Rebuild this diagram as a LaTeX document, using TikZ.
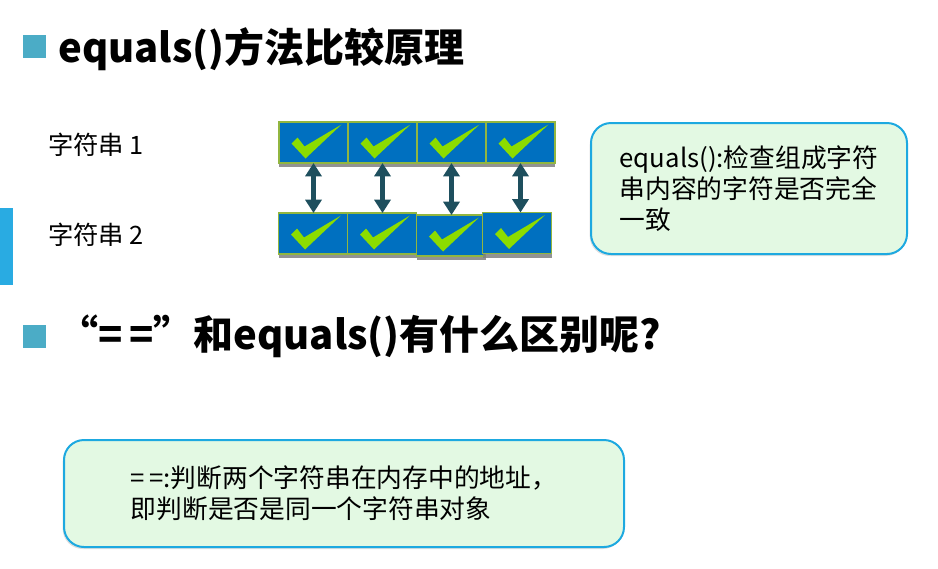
\documentclass[tikz,border=0pt]{standalone}
\usepackage{fontspec}
\setmainfont{Noto Sans CJK SC}
\usepackage{tikz}
\usetikzlibrary{arrows.meta,positioning,shadows}
\definecolor{bullet-blue}{HTML}{4BACC6}
\definecolor{bar-blue}{HTML}{29ABE2}
\definecolor{cell-blue}{HTML}{0070C0}
\definecolor{cell-rim}{HTML}{92B640}
\definecolor{tick-green}{HTML}{8CDC00}
\definecolor{link-teal}{HTML}{1E4F5E}
\definecolor{note-green}{HTML}{E3F9E3}
\definecolor{note-rim}{HTML}{1DA9E0}

\begin{document}
\begin{tikzpicture}[
  x=0.75pt, y=-0.75pt,
  bullet/.style={rectangle, fill=bullet-blue, minimum size=17.25pt, inner sep=0pt},
  head/.style={anchor=base west, inner sep=0pt,
               font=\fontsize{30}{36}\selectfont\bfseries},
  lbl/.style={anchor=west, inner sep=0pt, font=\fontsize{19}{23}\selectfont},
  cell/.style={rectangle, draw=cell-rim, line width=1pt, fill=cell-blue,
               minimum width=51.75pt, minimum height=30.75pt, outer sep=0pt,
               drop shadow={shadow xshift=0pt, shadow yshift=-3pt,
                            fill=gray, opacity=0.85},
               path picture={\fill[tick-green]
                 ([shift={(-22,1)}]path picture bounding box.center)
                 -- ++(6,-6) -- ++(7,9) -- ++(37,-22) -- ++(-36,34) -- cycle;}},
  link/.style={{Triangle[length=10pt,width=12pt]}-{Triangle[length=10pt,width=12pt]},
               draw=link-teal, line width=3.5pt},
  note/.style={rectangle, rounded corners=15pt, draw=note-rim, line width=1.5pt,
               fill=note-green, align=left,
               drop shadow={shadow xshift=-1pt, shadow yshift=-1.5pt, opacity=0.25},
               font=\fontsize{19.3}{23.5}\selectfont}
]
  \useasboundingbox (0,0) rectangle (938,568);

  % Headings
  \node[bullet] (bulletA) at (34.5,46.5) {};
  \node[head]   (title)    at (58,62)   {equals()方法比较原理};
  \node[bullet] (bulletB) at (34.5,336) {};
  \node[head]   (question) at (58,349)  {“=\,=”和equals()有什么区别呢?};

  % Side bar
  \fill[bar-blue] (0,208) rectangle (13,285);

  % Strings
  \node[lbl] (str1) at (48,145) {字符串 1};
  \node[lbl] (str2) at (48,235) {字符串 2};

  % Row 1
  \node[cell] (t1) at (313.5,142.5) {};
  \node[cell, right=0pt of t1] (t2) {};
  \node[cell, right=0pt of t2] (t3) {};
  \node[cell, right=0pt of t3] (t4) {};

  % Row 2
  \node[cell] (b1) at (313,233.5) {};
  \node[cell, right=0pt of b1] (b2) {};
  \node[cell] (b3) at (451,235.5) {};
  \node[cell] (b4) at (517,233) {};

  % Compare arrows
  \draw[link] (t1.south) -- (t1.south |- b1.north);
  \draw[link] (t2.south) -- (t2.south |- b2.north);
  \draw[link] (t3.south) -- (t3.south |- b3.north);
  \draw[link] (t4.south) -- (t4.south |- b4.north);

  % Notes
  \node[note, minimum width=237pt, minimum height=98.25pt] (eqnote) at (749,188.5)
    {equals():检查组成字符\\串内容的字符是否完全\\一致};
  \node[note, minimum width=420pt, minimum height=80.25pt] (eqeqnote) at (344,493.5)
    {=\,=:判断两个字符串在内存中的地址，\\即判断是否是同一个字符串对象};
\end{tikzpicture}
\end{document}
